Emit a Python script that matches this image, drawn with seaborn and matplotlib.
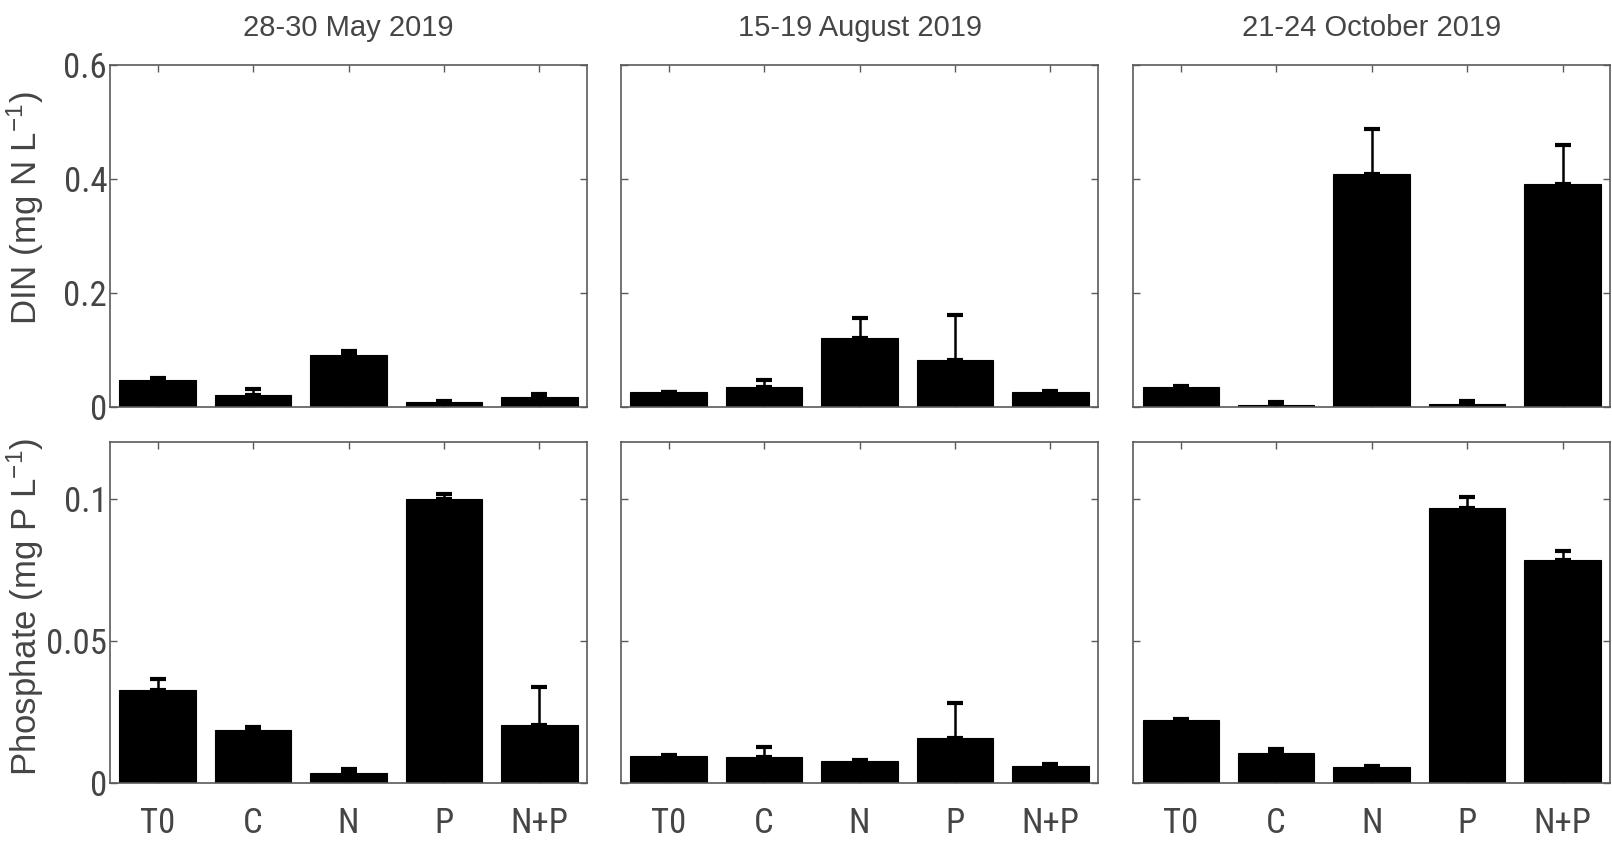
import matplotlib
matplotlib.use("Agg")
import matplotlib.pyplot as plt
import numpy as np
import seaborn as sns
from matplotlib import font_manager

treatments = ["T0", "C", "N", "P", "N+P"]
campaigns = ["28-30 May 2019", "15-19 August 2019", "21-24 October 2019"]

# DIN (mg N/L): mean and upper error per treatment
din_may = [0.047, 0.022, 0.092, 0.008, 0.018]
din_may_err = [0.004, 0.010, 0.006, 0.003, 0.005]
din_aug = [0.026, 0.035, 0.121, 0.083, 0.026]
din_aug_err = [0.001, 0.013, 0.036, 0.078, 0.003]
din_oct = [0.036, 0.004, 0.409, 0.005, 0.392]
din_oct_err = [0.0005, 0.005, 0.078, 0.005, 0.067]

# Phosphate (mg P/L)
po4_may = [0.0326, 0.0188, 0.0036, 0.0999, 0.0205]
po4_may_err = [0.0039, 0.0008, 0.0012, 0.0017, 0.0134]
po4_aug = [0.0096, 0.0090, 0.0077, 0.0158, 0.0061]
po4_aug_err = [0.0001, 0.0035, 0.0004, 0.0122, 0.0007]
po4_oct = [0.0223, 0.0106, 0.0056, 0.0968, 0.0784]
po4_oct_err = [0.0001, 0.0014, 0.0003, 0.0038, 0.0034]

din_ticks = [0, 0.2, 0.4, 0.6]
din_ticklabels = ["0", "0.2", "0.4", "0.6"]
po4_ticks = [0, 0.05, 0.1]
po4_ticklabels = ["0", "0.05", "0.1"]

TEXT = "#454545"
EDGE = "#5a5a5a"

sns.set_style("ticks")
available = {f.name for f in font_manager.fontManager.ttflist}
narrow = "Roboto Condensed" if "Roboto Condensed" in available else "DejaVu Sans"
regular = "Liberation Sans" if "Liberation Sans" in available else "DejaVu Sans"
plt.rcParams["font.family"] = [narrow, "DejaVu Sans"]
plt.rcParams["mathtext.default"] = "regular"

fig = plt.figure(figsize=(16.12, 8.41), dpi=100)

lefts = [0.0682, 0.3852, 0.7029]
width = 0.2960
rows = [
    (0.5160, 0.4067, [din_may, din_aug, din_oct], [din_may_err, din_aug_err, din_oct_err],
     (0, 0.6), din_ticks, din_ticklabels, "DIN (mg N L$^{-1}$)", 0.58),
    (0.0690, 0.4055, [po4_may, po4_aug, po4_oct], [po4_may_err, po4_aug_err, po4_oct_err],
     (0, 0.12), po4_ticks, po4_ticklabels, "Phosphate (mg P L$^{-1}$)", 0.515),
]

for r, (bottom, height, series, errors, ylim, yticks, yticklabels, ylabel, label_y) in enumerate(rows):
    for c in range(3):
        ax = fig.add_axes([lefts[c], bottom, width, height])
        vals = series[c]
        errs = errors[c]
        sns.barplot(x=treatments, y=vals, color="black", saturation=1, width=0.8,
                    edgecolor="black", linewidth=0.8, ax=ax)
        ax.errorbar(range(len(treatments)), vals, yerr=[np.zeros(len(vals)), errs],
                    fmt="none", ecolor="black", elinewidth=1.8, capsize=6, capthick=3)
        ax.set_xlim(-0.5, 4.5)
        ax.set_ylim(*ylim)
        ax.set_yticks(yticks)
        ax.set_yticklabels(yticklabels if c == 0 else [])
        ax.set_xticks(range(len(treatments)))
        ax.set_xticklabels(treatments if r == 1 else [])
        ax.set_xlabel("")
        ax.tick_params(direction="in", top=True, right=True, length=5, width=1,
                       color=EDGE, labelcolor=TEXT, labelsize=25)
        ax.tick_params(axis="x", pad=17)
        ax.tick_params(axis="y", pad=2)
        for sp in ax.spines.values():
            sp.set_color(EDGE)
            sp.set_linewidth(1.2)
        if r == 0:
            ax.set_title(campaigns[c], fontsize=21, color=TEXT, pad=21,
                         family=[regular, "DejaVu Sans"])
        if c == 0:
            ax.set_ylabel(ylabel, fontsize=25, color=TEXT, family=[regular, "DejaVu Sans"])
            ax.yaxis.set_label_coords(-0.135, label_y)
        else:
            ax.set_ylabel("")

fig.savefig("out.png", dpi=100)
